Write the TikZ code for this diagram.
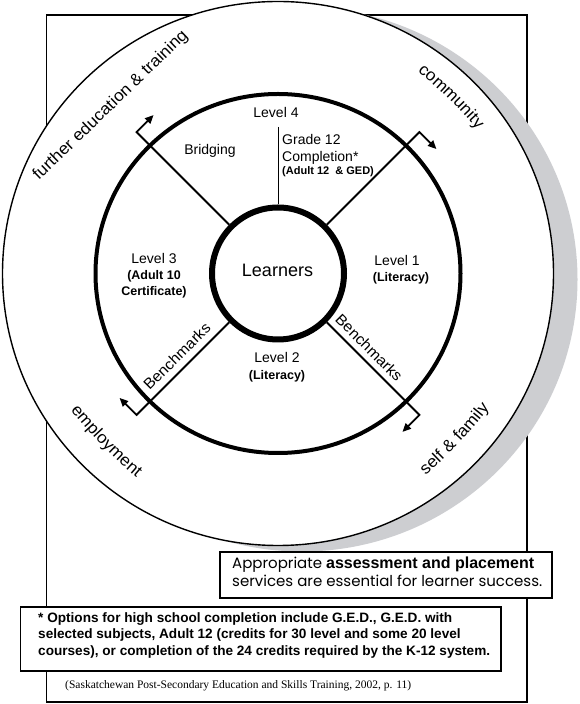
\documentclass[tikz,border=0pt]{standalone}
\usepackage{fontspec}
\setmainfont{Liberation Sans}
\newfontfamily\ringfont[FakeStretch=1.05]{Liberation Sans}
\newfontfamily\geofont{Poppins}
\newfontfamily\citefont{Liberation Serif}
\usetikzlibrary{calc,arrows.meta,decorations.text}
\definecolor{shadowgray}{RGB}{205,206,209}
\begin{document}
\begin{tikzpicture}[x=1pt,y=1pt,
  lbl/.style={font=\fontsize{14}{16}\selectfont, inner sep=0pt, anchor=base},
  lblb/.style={font=\bfseries\fontsize{12.5}{14}\selectfont, inner sep=0pt, anchor=base},
  spoke/.style={line width=1.8pt, -{Triangle[length=8.5pt,width=7.5pt]}},
  ringlbl/.style={font=\ringfont\fontsize{16.5}{18}\selectfont, inner sep=0pt},
  bench/.style={font=\ringfont\fontsize{15}{17}\selectfont, inner sep=0pt},
  textbox/.style={draw, fill=white, line width=1.1pt},
  foot/.style={font=\bfseries\fontsize{13.6}{16}\selectfont, inner sep=0pt, anchor=base west},
]
\useasboundingbox (0,0) rectangle (580,704);
\fill[white] (0,0) rectangle (580,704);
\coordinate (O) at (278,430.5);
% frame
\draw[line width=1.1pt] (46.7,2) rectangle (527,689);
% shadow and outer ring
\fill[shadowgray] ($(O)+(24,-6)$) ellipse [x radius=275.5, y radius=272];
\draw[fill=white, line width=1.4pt] (O) ellipse [x radius=275.5, y radius=272];
% middle ring
\draw[line width=4pt] (O) ellipse [x radius=182.5, y radius=179.5];
% inner circle
\node[circle, draw, line width=6pt, fill=white, minimum size=132pt, inner sep=0pt] (learners) at (O) {};
\node[font=\fontsize{18}{20}\selectfont, inner sep=0pt, anchor=base] (learnerstxt) at (277.5,427.6) {Learners};
% vertical divider
\coordinate (vtop) at (278.7,577);
\draw[line width=1.2pt] (vtop) -- (vtop |- learners.north);
% spokes with bent arrows
\coordinate (cNW) at ($(O)+(135:200)$);
\coordinate (tNW) at ($(cNW)+(45:24)$);
\coordinate (cNE) at ($(O)+(45:200)$);
\coordinate (tNE) at ($(cNE)+(-45:24)$);
\coordinate (cSE) at ($(O)+(-45:200)$);
\coordinate (tSE) at ($(cSE)+(-135:24)$);
\coordinate (cSW) at ($(O)+(-135:200)$);
\coordinate (tSW) at ($(cSW)+(135:24)$);
\draw[spoke] (learners.135) -- (cNW) -- (tNW);
\draw[spoke] (learners.45) -- (cNE) -- (tNE);
\draw[spoke] (learners.-45) -- (cSE) -- (tSE);
\draw[spoke] (learners.-135) -- (cSW) -- (tSW);
% inner labels
\node[lbl] (l4) at (276,586) {Level 4};
\node[lbl] (brid) at (210,549) {Bridging};
\node[lbl, anchor=base west] (g12) at (282,559) {Grade 12};
\node[lbl, anchor=base west] (comp) at (282,542) {Completion*};
\node[font=\bfseries\fontsize{11}{13}\selectfont, inner sep=0pt, anchor=base west] (a12) at (282,529) {(Adult 12\ \ \& GED)};
\node[lbl] (l3) at (154,440) {Level 3};
\node[lblb] (l3a) at (154,424.5) {(Adult 10};
\node[lblb] (l3b) at (154,408.5) {Certificate)};
\node[lbl] (l1) at (397,438.5) {Level 1};
\node[lblb] (l1a) at (401,422.5) {(Literacy)};
\node[lbl] (l2) at (277,341) {Level 2};
\node[lblb] (l2a) at (277,324.5) {(Literacy)};
\node[bench, rotate=45] (bm1) at (176.9,347.8) {Benchmarks};
\node[bench, rotate=-45] (bm2) at (369.2,356.3) {Benchmarks};
% outer ring labels
\node[ringlbl, rotate=44] (fet) at (110.8,598.4) {further education \& training};
\path[decorate, decoration={text along path, text align=center,
  text={|\ringfont\fontsize{16.5}{18}\selectfont|community}}]
  ($(O)+(45.6:-256)+(65.6:500)$) arc[start angle=65.6, end angle=25.6, radius=500];
\path[decorate, decoration={text along path, text align=center,
  text={|\ringfont\fontsize{16.5}{18}\selectfont|employment}}]
  ($(O)+(-135.7:-254)+(-155.7:500)$) arc[start angle=-155.7, end angle=-115.7, radius=500];
\path[decorate, decoration={text along path, text align=center,
  text={|\ringfont\fontsize{16.5}{18}\selectfont|self {\&} family}}]
  ($(O)+(-43.1:-252)+(-63.1:500)$) arc[start angle=-63.1, end angle=-23.1, radius=500];
% note boxes
\draw[textbox] (220,106) rectangle (552,152);
\node[inner sep=0pt, anchor=base west] (app1) at (232,135.3) {{\geofont\fontsize{15}{17}\selectfont Appropriate }{\bfseries\fontsize{16}{18}\selectfont assessment and placement}};
\node[inner sep=0pt, anchor=base west] (app2) at (232,117.5) {\geofont\fontsize{15}{17}\selectfont services are essential for learner success.};
\draw[textbox] (20.7,33) rectangle (501,97);
\node[foot] (f1) at (38,81) {* Options for high school completion include G.E.D., G.E.D. with};
\node[foot] (f2) at (38,65) {selected subjects, Adult 12 (credits for 30 level and some 20 level};
\node[foot] (f3) at (38,48) {courses), or completion of the 24 credits required by the K-12 system.};
\node[font=\citefont\fontsize{11.5}{13}\selectfont, inner sep=0pt, anchor=base west] (cite) at (65,15) {(Saskatchewan Post-Secondary Education and Skills Training, 2002, p. 11)};
\end{tikzpicture}
\end{document}
